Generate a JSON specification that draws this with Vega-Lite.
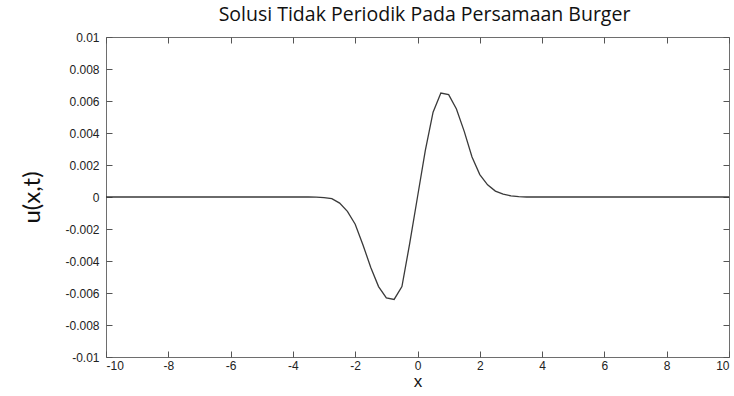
{
  "$schema": "https://vega.github.io/schema/vega-lite/v6.json",
  "autosize": "none",
  "width": 623,
  "height": 320,
  "padding": {"left": 106, "top": 37, "right": 5, "bottom": 39},
  "background": "white",
  "title": {"text": "Solusi Tidak Periodik Pada Persamaan Burger", "font": "Open Sans", "fontSize": 19.5, "fontWeight": "normal", "color": "#111", "offset": 6, "anchor": "middle", "dx": 7},
  "config": {
    "view": {"stroke": "#6e6e6e", "strokeWidth": 1},
    "axis": {"domain": false, "grid": false, "ticks": true, "tickColor": "#555", "tickWidth": 1, "tickSize": 6, "offset": -6, "labelFont": "Liberation Sans", "labelFontSize": 12, "labelColor": "#222", "titleColor": "#111", "titleFontWeight": "normal"}
  },
  "data": {"values": [
    {"x": -10, "u": 0}, {"x": -9, "u": 0}, {"x": -8, "u": 0}, {"x": -7, "u": 0}, {"x": -6, "u": 0}, {"x": -5, "u": 0}, {"x": -4, "u": 0},
    {"x": -3.5, "u": 0}, {"x": -3.25, "u": -0.00001}, {"x": -3.0, "u": -0.00004}, {"x": -2.75, "u": -0.0001},
    {"x": -2.5, "u": -0.00038}, {"x": -2.25, "u": -0.0009}, {"x": -2.0, "u": -0.0017}, {"x": -1.75, "u": -0.003},
    {"x": -1.5, "u": -0.0044}, {"x": -1.25, "u": -0.0056}, {"x": -1.0, "u": -0.0063}, {"x": -0.75, "u": -0.0064},
    {"x": -0.5, "u": -0.0056}, {"x": -0.25, "u": -0.0029}, {"x": 0, "u": 0}, {"x": 0.25, "u": 0.0029},
    {"x": 0.5, "u": 0.0053}, {"x": 0.75, "u": 0.0065}, {"x": 1.0, "u": 0.0064}, {"x": 1.25, "u": 0.0055},
    {"x": 1.5, "u": 0.0041}, {"x": 1.75, "u": 0.0025}, {"x": 2.0, "u": 0.0014}, {"x": 2.25, "u": 0.00076},
    {"x": 2.5, "u": 0.00037}, {"x": 2.75, "u": 0.00018}, {"x": 3.0, "u": 0.00007}, {"x": 3.25, "u": 0.00002},
    {"x": 3.5, "u": 0}, {"x": 4, "u": 0}, {"x": 5, "u": 0}, {"x": 6, "u": 0}, {"x": 7, "u": 0}, {"x": 8, "u": 0}, {"x": 9, "u": 0}, {"x": 10, "u": 0}
  ]},
  "layer": [
    {
      "mark": {"type": "line", "color": "#3a3a3a", "strokeWidth": 1.3},
      "encoding": {
        "x": {"field": "x", "type": "quantitative", "scale": {"domain": [-10, 10], "nice": false, "zero": false},
              "axis": {"orient": "bottom", "values": [-10, -8, -6, -4, -2, 0, 2, 4, 6, 8, 10], "labelExpr": "toString(datum.value)", "labelPadding": 3, "title": "x", "titleFont": "Liberation Sans", "titleFontSize": 17, "titlePadding": 2}},
        "y": {"field": "u", "type": "quantitative", "scale": {"domain": [-0.01, 0.01], "nice": false, "zero": false},
              "axis": {"orient": "left", "values": [-0.01, -0.008, -0.006, -0.004, -0.002, 0, 0.002, 0.004, 0.006, 0.008, 0.01], "labelExpr": "toString(datum.value)", "labelPadding": 7, "title": "u(x,t)", "titleFont": "Lato", "titleFontSize": 24, "titlePadding": 20}}
      }
    },
    {
      "mark": {"type": "line", "opacity": 0},
      "encoding": {
        "x": {"field": "x", "type": "quantitative", "scale": {"domain": [-10, 10], "nice": false, "zero": false},
              "axis": {"orient": "top", "values": [-10, -8, -6, -4, -2, 0, 2, 4, 6, 8, 10], "labels": false, "title": null}},
        "y": {"field": "u", "type": "quantitative", "scale": {"domain": [-0.01, 0.01], "nice": false, "zero": false},
              "axis": {"orient": "right", "values": [-0.01, -0.008, -0.006, -0.004, -0.002, 0, 0.002, 0.004, 0.006, 0.008, 0.01], "labels": false, "title": null}}
      }
    }
  ],
  "resolve": {"axis": {"x": "independent", "y": "independent"}}
}
